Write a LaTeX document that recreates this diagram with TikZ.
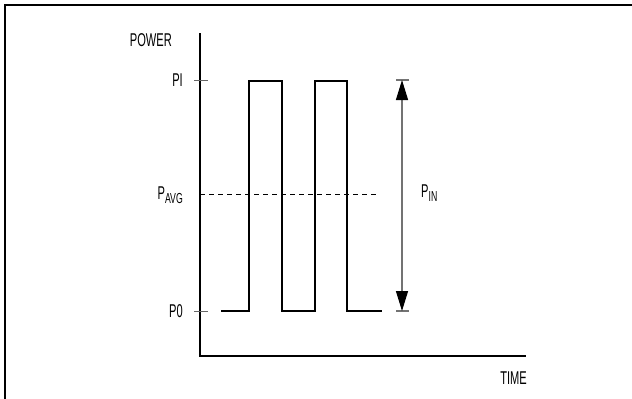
\documentclass[tikz,border=0pt]{standalone}
\usepackage{fontspec}
\setmainfont{Liberation Sans}[FakeStretch=0.6]
\usepackage{tikz}
\usetikzlibrary{arrows.meta}

\newcommand{\sublab}[2]{#1\raisebox{-3.5bp}{\fontsize{14.5bp}{14.5bp}\selectfont #2}}

\begin{document}
\begin{tikzpicture}[
  axisline/.style={line width=2.6bp,black},
  pulseline/.style={line width=2.6bp,black,line join=miter},
  tickline/.style={line width=1bp,black!60},
  dimline/.style={line width=1.3bp,black!55},
  lab/.style={inner sep=0pt,font=\fontsize{18.5bp}{18.5bp}\selectfont}
]
\useasboundingbox (0bp,0bp) rectangle (632bp,-399bp);

% frame
\draw [line width=2.5bp] (5bp,-399bp) -- (5bp,-5bp) -- (632bp,-5bp);

% axes
\coordinate (Ytop) at (200bp,-33bp);
\coordinate (O) at (200bp,-356bp);
\coordinate (Xend) at (526bp,-356bp);
\draw [axisline] (Ytop) -- (O) -- (Xend);

% levels
\coordinate (PIl) at (194bp,-80bp);
\coordinate (PIr) at (208bp,-80bp);
\coordinate (P0l) at (194bp,-311bp);
\coordinate (P0r) at (208bp,-311bp);
\draw [tickline] (PIl) -- (PIr);
\draw [tickline] (P0l) -- (P0r);

\node (POWER) at (172bp,-40bp)[lab,anchor=east] {POWER};
\node (PI) at (183bp,-80bp)[lab,anchor=east] {PI};
\node (P0) at (183bp,-311bp)[lab,anchor=east] {P0};
\node (PAVG) at (183bp,-195bp)[lab,anchor=east] {\sublab{P}{AVG}};
\node (PIN) at (421bp,-193bp)[lab,anchor=west] {\sublab{P}{IN}};
\node (TIME) at (527bp,-378bp)[lab,anchor=east] {TIME};

% pulses
\draw [pulseline] (221bp,-311bp) -- (249bp,-311bp) -- (249bp,-81bp) -- (282bp,-81bp)
  -- (282bp,-311bp) -- (315bp,-311bp) -- (315bp,-81bp) -- (347bp,-81bp)
  -- (347bp,-311bp) -- (382bp,-311bp);

% average
\coordinate (AVGend) at (377bp,-194bp);
\draw [line width=0.9bp,dash pattern=on 5bp off 4bp] (200bp,-194bp) -- (AVGend);

% swing
\coordinate (Atop) at (402bp,-80bp);
\coordinate (Abot) at (402bp,-311bp);
\draw [dimline] (396bp,-80bp) -- (409bp,-80bp);
\draw [dimline] (396bp,-311bp) -- (409bp,-311bp);
\draw [dimline,{Triangle[length=20bp,width=12bp,black]}-{Triangle[length=20bp,width=12bp,black]}] (Atop) -- (Abot);
\end{tikzpicture}
\end{document}
